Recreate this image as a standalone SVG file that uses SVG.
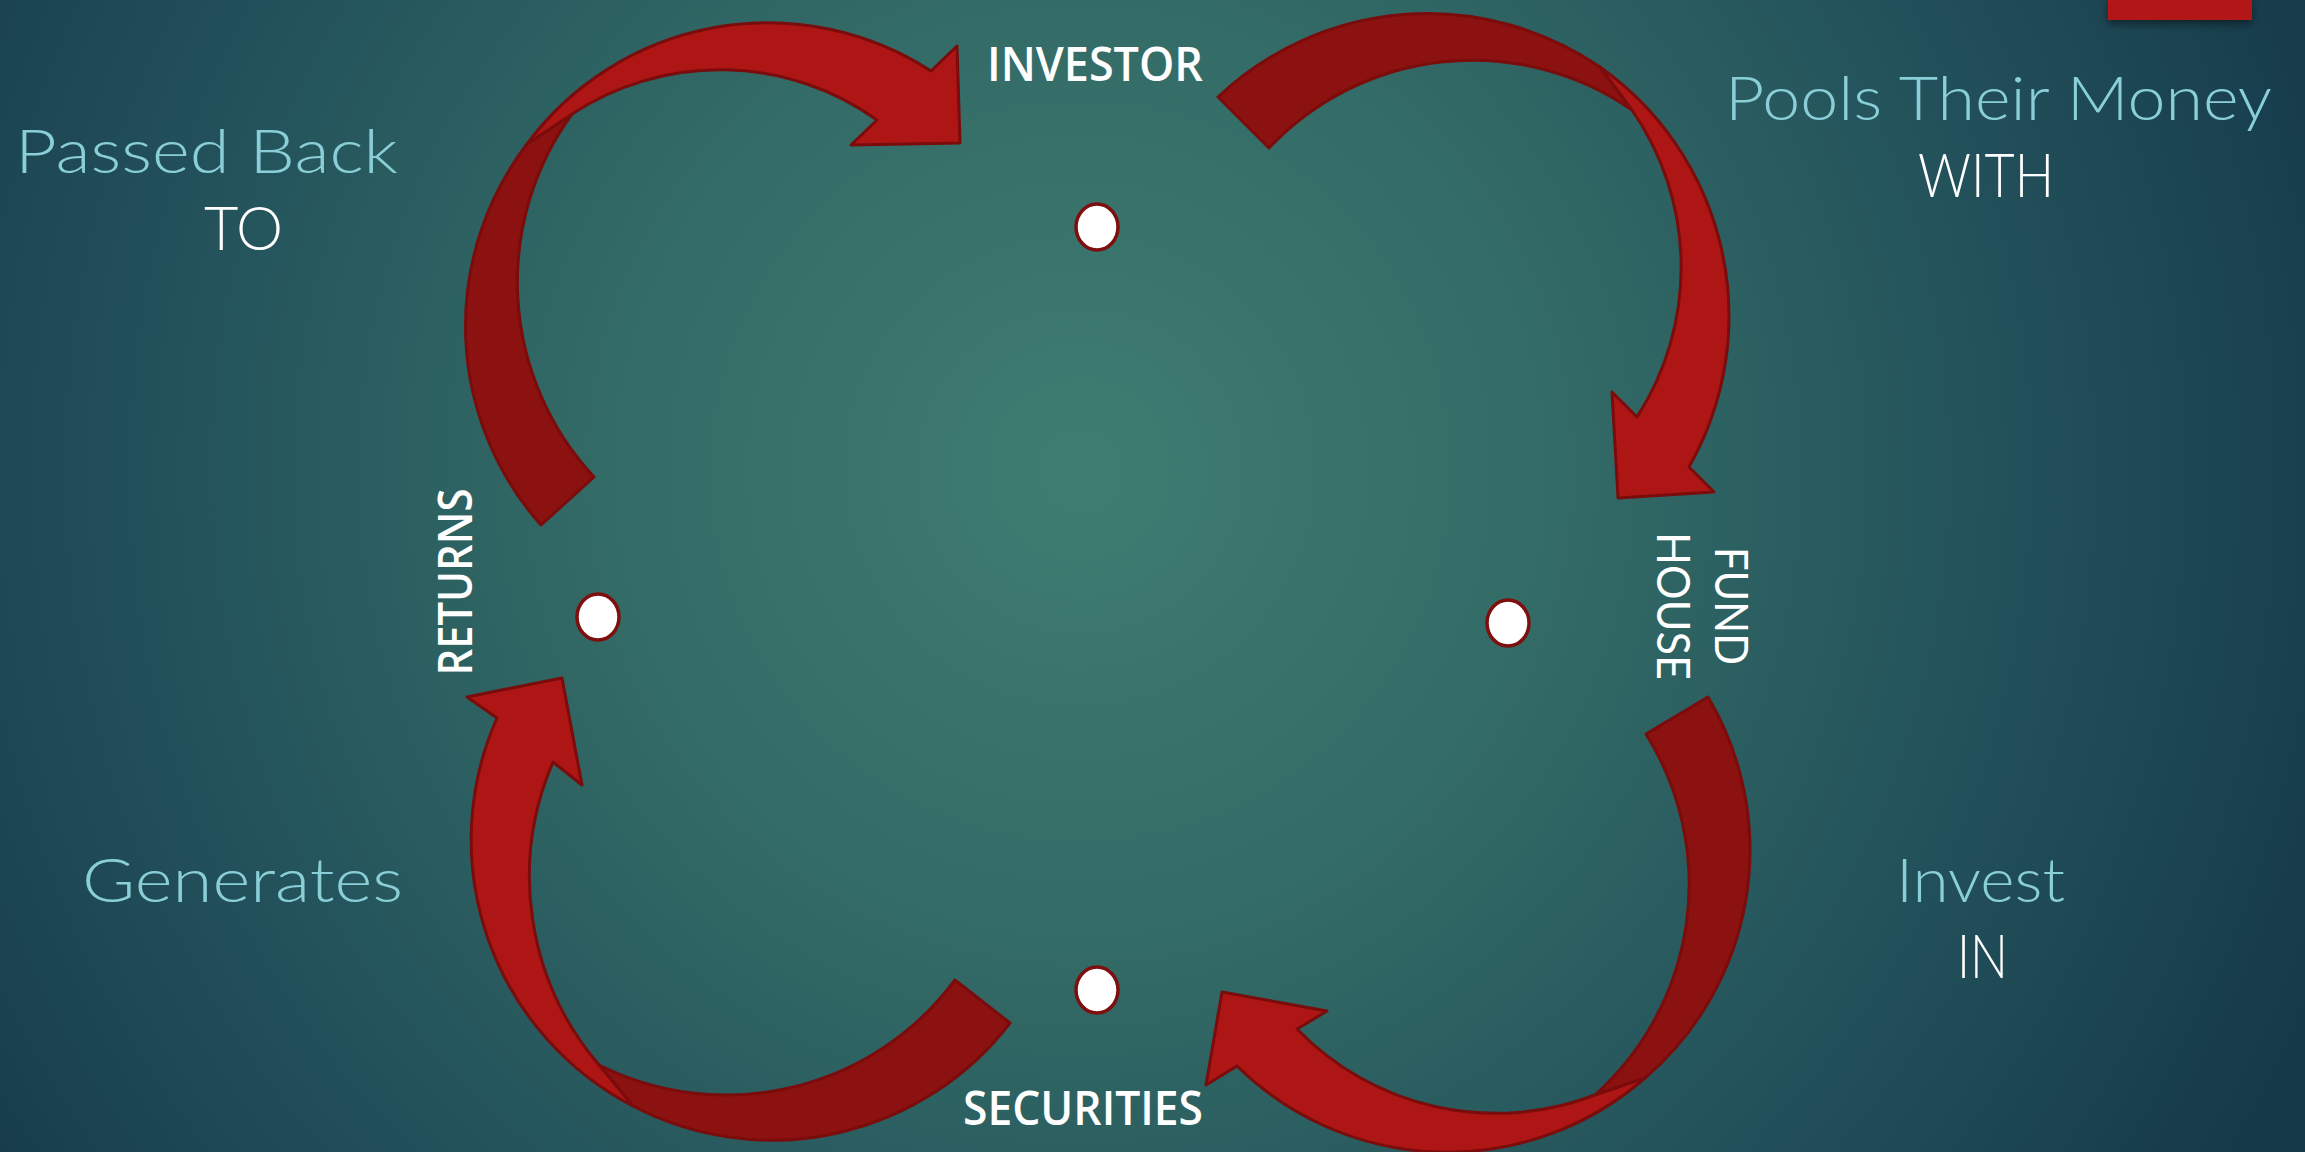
<svg xmlns="http://www.w3.org/2000/svg" width="2305" height="1152" viewBox="0 0 2305 1152">
  <defs>
    <radialGradient id="bg" gradientUnits="userSpaceOnUse" cx="1080" cy="470" r="1350">
      <stop offset="0" stop-color="#3f7d72"/>
      <stop offset="0.35" stop-color="#336b66"/>
      <stop offset="0.7" stop-color="#22505a"/>
      <stop offset="1" stop-color="#153949"/>
    </radialGradient>
    <filter id="tabShadow" x="-20%" y="-50%" width="140%" height="250%">
      <feDropShadow dx="0" dy="4" stdDeviation="4" flood-color="#000" flood-opacity="0.45"/>
    </filter>
    <style>
      .back{fill:#8c1111;stroke:#7a0c0c;stroke-width:3;stroke-linejoin:round}
      .front{fill:#ae1616;stroke:#7a0c0c;stroke-width:3;stroke-linejoin:round}
      .dot{fill:#ffffff;stroke:#7d0f0f;stroke-width:3.5}
      .name{font-family:"Open Sans","Noto Sans","Liberation Sans",sans-serif;font-weight:600;font-size:47px;fill:#ffffff}
      .name2{font-family:"Lato","Open Sans","Liberation Sans",sans-serif;font-weight:400;font-size:46px;fill:#ffffff}
      .verb{font-family:"Lato","Open Sans","Liberation Sans",sans-serif;font-weight:300;font-size:62px;fill:#8acfd8}
      .prep{font-family:"Lato","Open Sans","Liberation Sans",sans-serif;font-weight:300;font-size:62px;fill:#ffffff}
    </style>
  </defs>

  <!-- slide background -->
  <rect x="0" y="0" width="2305" height="1152" fill="url(#bg)"/>
  <rect x="2108" y="-4" width="144" height="24" fill="#b31815" filter="url(#tabShadow)"/>

  <!-- curved flow arrows with their step captions -->
  <g id="connectors">
    <g id="edge-investor-fundhouse">
      <path class="back" d="M1218,97 A305,305 0 0 1 1600,67 L1632,110 A280,280 0 0 0 1269,148 Z"/>
      <path class="front" d="M1600,67 A305,305 0 0 1 1689,467 L1714,492 L1618,498 L1612,392 L1637,417 A276,276 0 0 0 1632,110 Z"/>
      <text class="verb" x="1725" y="120" textLength="547" lengthAdjust="spacingAndGlyphs">Pools Their Money</text>
      <text class="prep" x="1918" y="197" textLength="136" lengthAdjust="spacingAndGlyphs">WITH</text>
    </g>
    <g id="edge-fundhouse-securities">
      <path class="back" d="M1708,697 A300,300 0 0 1 1645,1078 L1595,1095 A283,283 0 0 0 1646,734 Z"/>
      <path class="front" d="M1645,1078 A300,300 0 0 1 1237,1066 L1206,1085 L1222,992 L1327,1011 L1297,1029 A277,277 0 0 0 1595,1095 Z"/>
      <text class="verb" x="1896" y="902" textLength="169" lengthAdjust="spacingAndGlyphs">Invest</text>
      <text class="prep" x="1957" y="978" textLength="51" lengthAdjust="spacingAndGlyphs">IN</text>
    </g>
    <g id="edge-securities-returns">
      <path class="back" d="M1010,1023 A300,300 0 0 1 633,1106 L599,1065 A285,285 0 0 0 955,980 Z"/>
      <path class="front" d="M633,1106 A300,300 0 0 1 497,718 L467,697 L562,678 L582,785 L553,762 A290,290 0 0 0 599,1065 Z"/>
      <text class="verb" x="82" y="902" textLength="321" lengthAdjust="spacingAndGlyphs">Generates</text>
    </g>
    <g id="edge-returns-investor">
      <path class="back" d="M541,525 A300,300 0 0 1 527,144 L572,114 A286,286 0 0 0 594,477 Z"/>
      <path class="front" d="M527,144 A300,300 0 0 1 931,71 L957,46 L960,143 L851,145 L877,120 A270,270 0 0 0 572,114 Z"/>
      <text class="verb" x="15" y="173" textLength="383" lengthAdjust="spacingAndGlyphs">Passed Back</text>
      <text class="prep" x="204" y="250" textLength="79" lengthAdjust="spacingAndGlyphs">TO</text>
    </g>
  </g>

  <!-- nodes -->
  <g id="node-investor">
    <ellipse class="dot" cx="1097" cy="227" rx="21" ry="23"/>
    <text class="name" x="987" y="81" textLength="216" lengthAdjust="spacingAndGlyphs">INVESTOR</text>
  </g>
  <g id="node-fundhouse">
    <ellipse class="dot" cx="1508" cy="623" rx="21" ry="23"/>
    <text class="name2" transform="translate(1715,606) rotate(90)" text-anchor="middle" textLength="118" lengthAdjust="spacingAndGlyphs">FUND</text>
    <text class="name2" transform="translate(1657,606) rotate(90)" text-anchor="middle" textLength="148" lengthAdjust="spacingAndGlyphs">HOUSE</text>
  </g>
  <g id="node-securities">
    <ellipse class="dot" cx="1097" cy="990" rx="21" ry="23"/>
    <text class="name" x="963" y="1125" textLength="240" lengthAdjust="spacingAndGlyphs">SECURITIES</text>
  </g>
  <g id="node-returns">
    <ellipse class="dot" cx="598" cy="617" rx="21" ry="23"/>
    <text class="name" transform="translate(472,582) rotate(-90)" text-anchor="middle" textLength="187" lengthAdjust="spacingAndGlyphs">RETURNS</text>
  </g>
</svg>
